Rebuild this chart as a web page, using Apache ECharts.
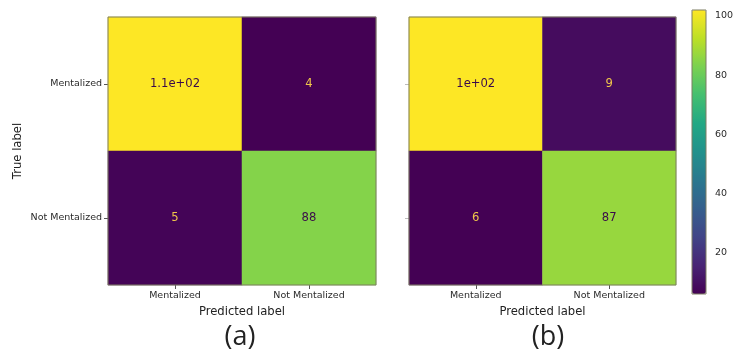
<!DOCTYPE html>
<html>
<head>
<meta charset="utf-8">
<script src="https://cdn.jsdelivr.net/npm/echarts@6/dist/echarts.min.js"></script>
<style>html,body{margin:0;padding:0;background:#fff;}#c{width:737px;height:356px;}</style>
</head>
<body>
<div id="c"></div>
<script>
// ---- data ----
var predictedLabels = ['Mentalized', 'Not Mentalized'];
var trueLabels = ['Mentalized', 'Not Mentalized'];
// rows = true label, cols = predicted label
var matrixA = [[107, 4], [5, 88]];
var matrixB = [[102, 9], [6, 87]];
var panelTitles = ['(a)', '(b)'];
var colorbarTicks = [20, 40, 60, 80, 100];

var viridis = ['#440154','#482475','#414487','#355f8d','#2a788e','#21918c','#22a884','#44bf70','#7ad151','#bddf26','#fde725'];
var FONT = 'DejaVu Sans';

function g2(v) {
  var s;
  if (Math.abs(v) >= 100) {
    var e = v.toExponential(1).split('e');
    var m = e[0].replace(/\.0+$/, '');
    var ex = parseInt(e[1], 10);
    s = m + 'e' + (ex < 0 ? '-' : '+') + (Math.abs(ex) < 10 ? '0' : '') + Math.abs(ex);
  } else {
    s = v.toPrecision(2);
    if (s.indexOf('.') >= 0) s = s.replace(/0+$/, '').replace(/\.$/, '');
  }
  return s;
}

function mminmax(m) {
  var all = [].concat.apply([], m);
  return [Math.min.apply(null, all), Math.max.apply(null, all)];
}

function buildData(m) {
  var mm = mminmax(m);
  var thresh = (mm[0] + mm[1]) / 2;
  var out = [];
  for (var r = 0; r < m.length; r++) {
    for (var c = 0; c < m[r].length; c++) {
      var v = m[r][c];
      out.push({value: [c, r, v], label: {color: v < thresh ? '#efc64a' : '#3a0a4a'}});
    }
  }
  return out;
}

var mmA = mminmax(matrixA), mmB = mminmax(matrixB);

var grids = [
  {left: 108, top: 17, width: 268, height: 268},
  {left: 409, top: 17, width: 267, height: 268},
  {left: 692, top: 10, width: 14, height: 284}
];

function xAxisFor(i) {
  return {
    gridIndex: i, type: 'category', data: predictedLabels,
    axisLine: {show: false},
    axisTick: {show: true, alignWithLabel: true, length: 4, lineStyle: {color: '#555'}},
    axisLabel: {fontFamily: FONT, fontSize: 9.5, color: '#2a2a2a', margin: 6},
    splitLine: {show: false},
    name: 'Predicted label', nameLocation: 'middle', nameGap: 18,
    nameTextStyle: {fontFamily: FONT, fontSize: 11.6, color: '#222'}
  };
}
function yAxisFor(i, showLabels) {
  var a = {
    gridIndex: i, type: 'category', data: trueLabels, inverse: true,
    axisLine: {show: false},
    axisTick: {show: true, alignWithLabel: true, length: 4, lineStyle: {color: showLabels ? '#555' : '#bbb'}},
    axisLabel: {show: showLabels, fontFamily: FONT, fontSize: 9.5, color: '#2a2a2a', margin: 6},
    splitLine: {show: false}
  };
  if (showLabels) {
    a.name = 'True label'; a.nameLocation = 'middle'; a.nameGap = 84; a.nameRotate = 90;
    a.nameTextStyle = {fontFamily: FONT, fontSize: 11.6, color: '#222'};
  }
  return a;
}

var option = {
  backgroundColor: '#fff',
  animation: false,
  title: [
    {text: panelTitles[0], left: 240, top: 337, textAlign: 'center', textVerticalAlign: 'middle', padding: 0,
     textStyle: {fontFamily: 'Open Sans', fontSize: 27, fontWeight: 'normal', color: '#222'}},
    {text: panelTitles[1], left: 548, top: 337, textAlign: 'center', textVerticalAlign: 'middle', padding: 0,
     textStyle: {fontFamily: 'Open Sans', fontSize: 27, fontWeight: 'normal', color: '#222'}}
  ],
  grid: grids.map(function (g) {
    return Object.assign({show: true, z: 5, backgroundColor: 'transparent', borderColor: '#7d7d62', borderWidth: 1}, g);
  }),
  xAxis: [xAxisFor(0), xAxisFor(1), {gridIndex: 2, type: 'value', show: false}],
  yAxis: [yAxisFor(0, true), yAxisFor(1, false), {
    gridIndex: 2, type: 'value', min: mmB[0], max: mmB[1], position: 'right',
    axisLine: {show: false},
    splitLine: {show: false},
    axisTick: {show: true, length: 4, customValues: colorbarTicks, lineStyle: {color: '#555'}},
    axisLabel: {show: true, customValues: colorbarTicks, fontFamily: FONT, fontSize: 9.5, color: '#2a2a2a', margin: 9}
  }],
  visualMap: [
    {type: 'continuous', seriesIndex: 0, min: mmA[0], max: mmA[1], show: false, inRange: {color: viridis}},
    {type: 'continuous', seriesIndex: 1, min: mmB[0], max: mmB[1], show: true, calculable: false,
     left: 692, top: 10, itemWidth: 14, itemHeight: 284, padding: 0, text: null, hoverLink: false,
     inRange: {color: viridis}}
  ],
  series: [
    {type: 'heatmap', xAxisIndex: 0, yAxisIndex: 0, data: buildData(matrixA),
     label: {show: true, fontFamily: FONT, fontSize: 11.6, formatter: function (p) { return g2(p.value[2]); }}},
    {type: 'heatmap', xAxisIndex: 1, yAxisIndex: 1, data: buildData(matrixB),
     label: {show: true, fontFamily: FONT, fontSize: 11.6, formatter: function (p) { return g2(p.value[2]); }}}
  ]
};

var chart = echarts.init(document.getElementById('c'), null, {renderer: 'canvas'});
chart.setOption(option);
</script>
</body>
</html>
